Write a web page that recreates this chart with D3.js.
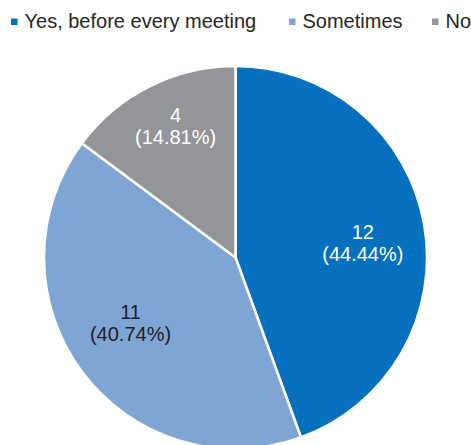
<!DOCTYPE html>
<html><head><meta charset="utf-8">
<script src="https://cdn.jsdelivr.net/npm/d3@7"></script>
<style>html,body{margin:0;padding:0;background:#fff;}svg{display:block;}</style>
</head><body>
<svg id="c" width="471" height="445"></svg>
<script>
const categories = ["Yes, before every meeting", "Sometimes", "No"];
const values = [12, 11, 4];
const percentLabels = ["44.44%", "40.74%", "14.81%"];
const colors = ["#0570BD", "#7FA5D5", "#939598"];
const labelColors = ["#ffffff", "#1f1f1f", "#ffffff"];

const svg = d3.select("#c");
const cx = 235.5, cy = 257.5, R = 191.5;
const font = "'Liberation Sans', Arial, sans-serif";

const pie = d3.pie().sort(null).value(d => d)(values);
const arc = d3.arc().innerRadius(0).outerRadius(R);

const g = svg.append("g").attr("transform", `translate(${cx},${cy})`);
g.selectAll("path").data(pie).join("path")
  .attr("d", arc)
  .attr("fill", (d, i) => colors[i])
  .attr("stroke", "#fff").attr("stroke-width", 2.5).attr("stroke-linejoin", "round");

// label placement: centroid on a label ring, plus small layout nudges
const labelNudge = [[0, 4.3], [-1.3, -15.5], [4.1, -8.3]];
const labelR = d => (d.endAngle - d.startAngle) < 1.2 ? R * 0.745 : R * 0.675;
const lab = g.selectAll("g.lab").data(pie).join("g").attr("class", "lab")
  .attr("transform", (d, i) => {
    const r = labelR(d);
    const c = d3.arc().innerRadius(r).outerRadius(r).centroid(d);
    return `translate(${c[0] + labelNudge[i][0]},${c[1] + labelNudge[i][1]})`;
  });
lab.append("text").attr("text-anchor", "middle").attr("y", 0)
  .attr("font-family", font).attr("font-size", 20)
  .attr("fill", (d, i) => labelColors[i])
  .text(d => d.data);
lab.append("text").attr("text-anchor", "middle").attr("y", 22)
  .attr("font-family", font).attr("font-size", 20)
  .attr("fill", (d, i) => labelColors[i])
  .text((d, i) => `(${percentLabels[i]})`);

// legend
const legendX = [11, 289, 432];
const leg = svg.append("g").selectAll("g").data(categories).join("g")
  .attr("transform", (d, i) => `translate(${legendX[i]},0)`);
leg.append("rect").attr("x", 0).attr("y", 18.5).attr("width", 6.5).attr("height", 6.5)
  .attr("fill", (d, i) => colors[i]);
leg.append("text").attr("x", 13.5).attr("y", 28)
  .attr("font-family", font).attr("font-size", 20).attr("fill", "#262626")
  .text(d => d);
</script>
</body></html>
